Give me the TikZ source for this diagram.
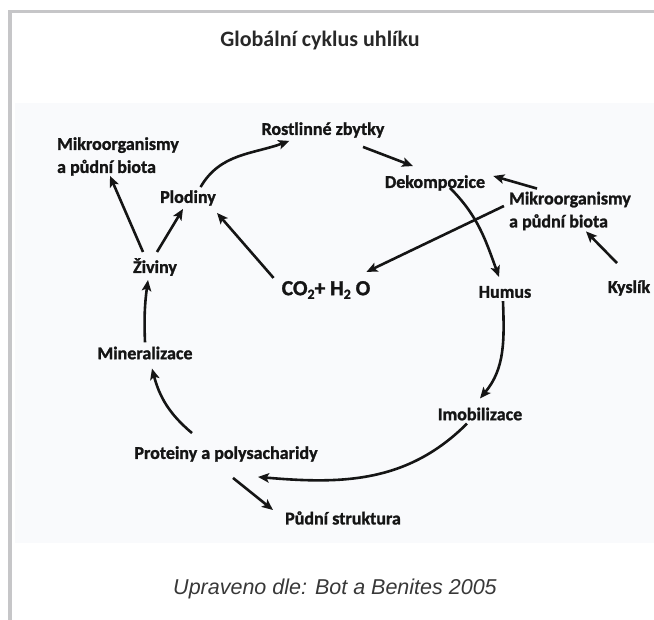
\documentclass[tikz,border=0pt]{standalone}
\usepackage{fontspec}
\setmainfont{Carlito}
\newfontfamily\lblfont[BoldFeatures={FakeBold=1.3}]{Carlito}
\newfontfamily\capfont{Liberation Sans}
\usepackage{xcolor}
\usetikzlibrary{arrows.meta, calc}
\tikzset{>={Stealth[length=11pt,width=9.5pt,inset=2.5pt]}}
\definecolor{framegrey}{HTML}{C6C6C8}
\definecolor{panelbg}{HTML}{F9FAFC}
\definecolor{txtdark}{HTML}{151515}
\newcommand{\subnum}[1]{\raisebox{-0.35ex}{\fontsize{14}{14}\selectfont #1}}

\begin{document}
\begin{tikzpicture}[x=1pt, y=1pt,
    lbl/.style={font=\lblfont\bfseries\fontsize{18}{23}\selectfont, text=txtdark, inner sep=3pt, align=left},
    arr/.style={->, line width=2.6pt, draw=txtdark}]
    \useasboundingbox (0,0) rectangle (654,-620);
    \fill[panelbg] (15,-103) rectangle (654,-543);
    \draw[framegrey, line width=3.5pt] (10,-620) -- (10,-11.5) -- (654,-11.5);
    \node[font=\bfseries\fontsize{22}{26}\selectfont, text=txtdark!92] (title) at (320,-41) {Globální cyklus uhlíku};
    \node[font=\capfont\itshape\fontsize{21.5}{26}\selectfont, text=txtdark!85] (cap) at (335,-589) {Upraveno dle: Bot a Benites 2005};
    \node[lbl] (rost) at (323,-130) {Rostlinné zbytky};
    \node[lbl] (mikL) at (118,-156.5) {Mikroorganismy\\a půdní biota};
    \node[lbl] (plod) at (188,-198) {Plodiny};
    \node[lbl] (dek) at (435,-183) {Dekompozice};
    \node[lbl] (mikR) at (570,-211) {Mikroorganismy\\a půdní biota};
    \node[lbl] (ziv) at (155,-267) {Živiny};
    \node[lbl, font=\lblfont\bfseries\fontsize{21.5}{26}\selectfont] (co2) at (326,-290) {CO\subnum{2}+ H\subnum{2} O};
    \node[lbl] (hum) at (505,-292) {Humus};
    \node[lbl] (kys) at (629,-288) {Kyslík};
    \node[lbl] (min) at (145,-353) {Mineralizace};
    \node[lbl] (imo) at (480,-414) {Imobilizace};
    \node[lbl] (prot) at (226,-454) {Proteiny a polysacharidy};
    \node[lbl] (pud) at (343,-518) {Půdní struktura};
    \draw[arr] (plod.41) to[out=60,in=200] (rost.198);
    \draw[arr] ([xshift=40pt,yshift=-6pt]rost.south) -- ([xshift=-22pt,yshift=6pt]dek.north);
    \draw[arr] ([xshift=-33pt]mikR.north) -- ([xshift=5pt,yshift=7pt]dek.east);
    \draw[arr] ([xshift=15pt,yshift=6pt]dek.south) to[out=-45,in=110] ([xshift=-6pt,yshift=6pt]hum.north);
    \draw[arr] ([xshift=-2pt,yshift=5pt]mikR.west) -- ([xshift=-7pt,yshift=6pt]co2.north east);
    \draw[arr] ([xshift=-12pt,yshift=14pt]kys.north) -- ([xshift=16pt,yshift=2pt]mikR.south);
    \draw[arr] ([xshift=-5pt]co2.north west) -- ([xshift=-2pt,yshift=-4pt]plod.south east);
    \draw[arr] ([xshift=2pt,yshift=3pt]ziv.north) -- ([xshift=-5pt]plod.south);
    \draw[arr] ([xshift=-12pt,yshift=3pt]ziv.north) -- ([xshift=-8pt,yshift=3pt]mikL.south);
    \draw[arr] ([yshift=1pt]min.north) to[bend left=5] ([xshift=-7pt,yshift=-1pt]ziv.south);
    \draw[arr] ([xshift=-34pt,yshift=10pt]prot.north) to[out=140,in=285] ([xshift=7pt,yshift=-6pt]min.south);
    \draw[arr] ([xshift=-2pt]hum.south) to[out=-88,in=50] ([yshift=6pt]imo.north);
    \draw[arr] ([xshift=-13pt]imo.south) to[out=225,in=-5] ([xshift=32pt,yshift=-12pt]prot.south);
    \draw[arr] ([xshift=7pt,yshift=-13pt]prot.south) -- ([xshift=-9pt,yshift=8pt]pud.west);
\end{tikzpicture}
\end{document}
